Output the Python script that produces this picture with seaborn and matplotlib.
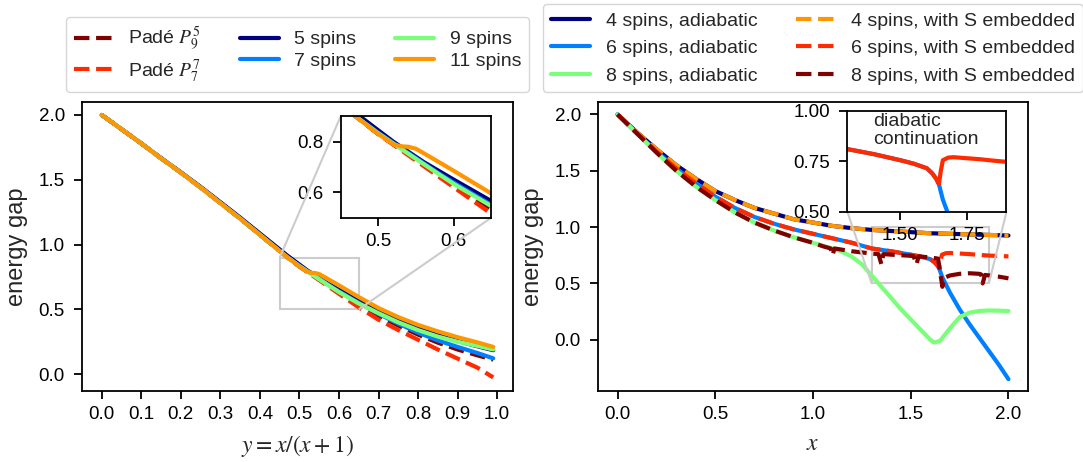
import matplotlib
matplotlib.use("Agg")
import matplotlib.pyplot as plt
import numpy as np
import pandas as pd
import seaborn as sns
from mpl_toolkits.axes_grid1.inset_locator import mark_inset

# ---------------- left panel data (vs y = x/(x+1)) ----------------
y_left = [0.0, 0.05, 0.1, 0.15, 0.2, 0.25, 0.3, 0.35, 0.4, 0.45, 0.47,
          0.5, 0.52, 0.53, 0.54, 0.55, 0.56, 0.58, 0.6, 0.65, 0.7, 0.75,
          0.8, 0.85, 0.9, 0.95, 0.99]
pade_9_5 = [2.0, 1.89, 1.78, 1.665, 1.555, 1.44, 1.32, 1.2, 1.075, 0.95, 0.90,
            0.83, 0.79, 0.77, 0.75, 0.73, 0.71, 0.668, 0.628, 0.535, 0.452, 0.375,
            0.305, 0.243, 0.19, 0.145, 0.112]
pade_7_7 = [2.0, 1.89, 1.78, 1.665, 1.555, 1.44, 1.32, 1.2, 1.075, 0.95, 0.90,
            0.83, 0.788, 0.767, 0.746, 0.725, 0.704, 0.662, 0.62, 0.515, 0.42, 0.34,
            0.265, 0.19, 0.12, 0.05, -0.025]
spins5 = [2.0, 1.89, 1.78, 1.667, 1.558, 1.445, 1.327, 1.208, 1.085, 0.962, 0.913,
          0.845, 0.80, 0.78, 0.76, 0.74, 0.72, 0.685, 0.65, 0.565, 0.485, 0.415,
          0.355, 0.30, 0.255, 0.215, 0.185]
spins7 = [2.0, 1.89, 1.78, 1.665, 1.555, 1.44, 1.32, 1.2, 1.075, 0.95, 0.90,
          0.835, 0.795, 0.775, 0.755, 0.735, 0.715, 0.675, 0.638, 0.55, 0.465, 0.39,
          0.32, 0.26, 0.21, 0.163, 0.122]
spins9 = [2.0, 1.89, 1.78, 1.665, 1.555, 1.44, 1.32, 1.2, 1.075, 0.95, 0.90,
          0.833, 0.792, 0.772, 0.752, 0.732, 0.712, 0.672, 0.633, 0.545, 0.47, 0.40,
          0.34, 0.29, 0.25, 0.218, 0.19]
spins11 = [2.0, 1.89, 1.78, 1.665, 1.555, 1.44, 1.32, 1.2, 1.075, 0.95, 0.90,
           0.83, 0.79, 0.782, 0.78, 0.772, 0.755, 0.72, 0.685, 0.595, 0.51, 0.44,
           0.38, 0.33, 0.285, 0.245, 0.21]

# ---------------- right panel data (vs x) ----------------
x4 = [0.0, 0.1, 0.2, 0.3, 0.4, 0.5, 0.6, 0.7, 0.8, 0.9, 1.0, 1.1, 1.2, 1.3,
      1.4, 1.5, 1.6, 1.7, 1.8, 1.9, 2.0]
gap4_adiabatic = [2.0, 1.84, 1.69, 1.55, 1.43, 1.32, 1.24, 1.17, 1.12, 1.07, 1.04,
                  1.01, 0.99, 0.975, 0.965, 0.955, 0.945, 0.94, 0.935, 0.93, 0.925]
gap4_embedded = [2.0, 1.84, 1.69, 1.55, 1.43, 1.32, 1.24, 1.17, 1.12, 1.07, 1.04,
                 1.01, 0.99, 0.975, 0.965, 0.955, 0.945, 0.94, 0.935, 0.93, 0.925]

x6_adiabatic = [0.0, 0.1, 0.2, 0.3, 0.4, 0.5, 0.6, 0.7, 0.8, 0.9, 1.0, 1.1, 1.2,
                1.3, 1.4, 1.5, 1.55, 1.6, 1.62, 1.635, 1.645, 1.66, 1.7, 1.75,
                1.8, 1.85, 1.9, 1.95, 2.0]
gap6_adiabatic = [2.0, 1.83, 1.67, 1.52, 1.39, 1.27, 1.17, 1.09, 1.03, 0.98, 0.94,
                  0.9, 0.86, 0.81, 0.785, 0.755, 0.738, 0.715, 0.69, 0.663, 0.637,
                  0.56, 0.42, 0.27, 0.14, 0.02, -0.10, -0.22, -0.35]
x6_embedded = [0.0, 0.1, 0.2, 0.3, 0.4, 0.5, 0.6, 0.7, 0.8, 0.9, 1.0, 1.1, 1.2,
               1.3, 1.4, 1.5, 1.55, 1.6, 1.62, 1.635, 1.645, 1.652, 1.66, 1.68,
               1.7, 1.75, 1.8, 1.85, 1.9, 1.95, 2.0]
gap6_embedded = [2.0, 1.83, 1.67, 1.52, 1.39, 1.27, 1.17, 1.09, 1.03, 0.98, 0.94,
                 0.9, 0.86, 0.81, 0.785, 0.755, 0.738, 0.715, 0.69, 0.663, 0.637,
                 0.70, 0.755, 0.768, 0.77, 0.765, 0.76, 0.753, 0.747, 0.743, 0.74]

x8_adiabatic = [0.0, 0.1, 0.2, 0.3, 0.4, 0.5, 0.6, 0.7, 0.8, 0.9, 1.0, 1.1, 1.15,
                1.2, 1.25, 1.3, 1.35, 1.4, 1.45, 1.5, 1.55, 1.6, 1.62, 1.65, 1.7,
                1.75, 1.8, 1.85, 1.9, 1.95, 2.0]
gap8_adiabatic = [2.0, 1.83, 1.66, 1.50, 1.36, 1.24, 1.13, 1.04, 0.97, 0.91, 0.86,
                  0.81, 0.78, 0.735, 0.67, 0.57, 0.47, 0.37, 0.27, 0.18, 0.09, 0.0,
                  -0.025, -0.01, 0.10, 0.20, 0.24, 0.255, 0.26, 0.258, 0.255]
x8_embedded = [0.0, 0.1, 0.2, 0.3, 0.4, 0.5, 0.6, 0.7, 0.8, 0.9, 1.0, 1.05, 1.09,
               1.1, 1.11, 1.2, 1.3, 1.335, 1.35, 1.36, 1.4, 1.5, 1.515, 1.53, 1.54,
               1.6, 1.64, 1.662, 1.672, 1.7, 1.75, 1.8, 1.85, 1.86, 1.868, 1.88,
               1.95, 2.0]
gap8_embedded = [2.0, 1.83, 1.66, 1.50, 1.36, 1.24, 1.13, 1.04, 0.97, 0.91, 0.86,
                 0.83, 0.81, 0.75, 0.81, 0.785, 0.765, 0.76, 0.67, 0.76, 0.755,
                 0.745, 0.74, 0.67, 0.74, 0.73, 0.72, 0.47, 0.55, 0.57, 0.585, 0.59,
                 0.585, 0.58, 0.50, 0.575, 0.56, 0.545]

# ---------------- style ----------------
sns.set_style("ticks")
plt.rcParams["font.family"] = ["Liberation Sans", "DejaVu Sans"]
plt.rcParams["mathtext.fontset"] = "stix"
plt.rcParams["axes.linewidth"] = 1.3
plt.rcParams["xtick.major.width"] = 1.3
plt.rcParams["ytick.major.width"] = 1.3
plt.rcParams["xtick.major.size"] = 5.8
plt.rcParams["ytick.major.size"] = 5.8
plt.rcParams["xtick.major.pad"] = 5
plt.rcParams["ytick.major.pad"] = 6.5
plt.rcParams["xtick.color"] = "black"
plt.rcParams["ytick.color"] = "black"
plt.rcParams["axes.edgecolor"] = "black"

C_NAVY = "#000080"
C_BLUE = "#0080ff"
C_GREEN = "#7bff7b"
C_ORANGE = "#ff9600"
C_RED = "#ff2a00"
C_DARKRED = "#800000"
LW = 3

TICK_FS = 13.5
LABEL_FS = 17
LEG_FS = 14

fig = plt.figure(figsize=(10.83, 4.62), dpi=100)
axL = fig.add_axes([82 / 1083, 1 - 391 / 462, 431 / 1083, 289 / 462])
axR = fig.add_axes([598 / 1083, 1 - 391 / 462, 430 / 1083, 289 / 462])

left_series = [
    (pade_9_5, "Padé $P_9^5$", C_DARKRED, "--"),
    (pade_7_7, "Padé $P_7^7$", C_RED, "--"),
    (spins5, "5 spins", C_NAVY, "-"),
    (spins7, "7 spins", C_BLUE, "-"),
    (spins9, "9 spins", C_GREEN, "-"),
    (spins11, "11 spins", C_ORANGE, "-"),
]


def draw(ax, xs, ys, color, ls, label=None):
    df = pd.DataFrame({"x": xs, "y": ys})
    sns.lineplot(data=df, x="x", y="y", ax=ax, color=color, linestyle=ls,
                 linewidth=LW, label=label, sort=False, estimator=None,
                 legend=False if label is None else "auto")


for vals, lab, col, ls in left_series:
    draw(axL, y_left, vals, col, ls, lab)

right_series = [
    (x4, gap4_adiabatic, "4 spins, adiabatic", C_NAVY, "-"),
    (x6_adiabatic, gap6_adiabatic, "6 spins, adiabatic", C_BLUE, "-"),
    (x8_adiabatic, gap8_adiabatic, "8 spins, adiabatic", C_GREEN, "-"),
    (x4, gap4_embedded, "4 spins, with S embedded", C_ORANGE, "--"),
    (x6_embedded, gap6_embedded, "6 spins, with S embedded", C_RED, "--"),
    (x8_embedded, gap8_embedded, "8 spins, with S embedded", C_DARKRED, "--"),
]
for xs, vals, lab, col, ls in right_series:
    draw(axR, xs, vals, col, ls, lab)

# axes formatting
axL.set_xlim(-0.05, 1.04)
axL.set_ylim(-0.13, 2.1)
axL.set_xticks(np.arange(0, 1.01, 0.1))
axL.set_yticks(np.arange(0, 2.01, 0.5))
axL.set_xlabel("$y = x/(x+1)$", fontsize=LABEL_FS, labelpad=7)
axL.set_ylabel("energy gap", fontsize=LABEL_FS, labelpad=8)

axR.set_xlim(-0.1, 2.1)
axR.set_ylim(-0.455, 2.11)
axR.set_xticks(np.arange(0, 2.01, 0.5))
axR.set_yticks(np.arange(0, 2.01, 0.5))
axR.set_xlabel("$x$", fontsize=LABEL_FS, labelpad=7)
axR.set_ylabel("energy gap", fontsize=LABEL_FS, labelpad=8)

for ax in (axL, axR):
    ax.tick_params(labelsize=TICK_FS)
    for s in ax.spines.values():
        s.set_visible(True)
        s.set_color("black")

# legends
hL, lL = axL.get_legend_handles_labels()
axL.legend(hL, lL, loc="lower center", bbox_to_anchor=(0.5, 1.0), ncol=3,
           fontsize=LEG_FS, frameon=True, handlelength=2.0, labelspacing=0.2)
hR, lR = axR.get_legend_handles_labels()
axR.legend(hR, lR, loc="lower center", bbox_to_anchor=(0.5, 1.0), ncol=2,
           fontsize=LEG_FS, frameon=True, handlelength=2.0)

# left inset
insL = axL.inset_axes([0.6, 0.6, 0.35, 0.35])
for vals, lab, col, ls in left_series:
    draw(insL, y_left, vals, col, ls)
insL.set_xlim(0.45, 0.65)
insL.set_ylim(0.5, 0.9)
insL.set_xticks([0.5, 0.6])
insL.set_yticks([0.6, 0.8])
insL.set_xlabel("")
insL.set_ylabel("")
insL.tick_params(labelsize=TICK_FS)
mark_inset(axL, insL, loc1=2, loc2=4, fc="none", ec="0.8", lw=1.5)

# right inset
insR = axR.inset_axes([0.58, 0.62, 0.37, 0.35])
draw(insR, x6_adiabatic, gap6_adiabatic, C_BLUE, "-")
draw(insR, x6_embedded, gap6_embedded, C_RED, "-")
insR.set_xlim(1.3, 1.9)
insR.set_ylim(0.5, 1.0)
insR.set_xticks([1.5, 1.75])
insR.set_yticks([0.5, 0.75, 1.0])
insR.set_xticklabels(["1.50", "1.75"])
insR.set_yticklabels(["0.50", "0.75", "1.00"])
insR.set_xlabel("")
insR.set_ylabel("")
insR.tick_params(labelsize=TICK_FS)
insR.text(0.16, 0.975, "diabatic\ncontinuation", transform=insR.transAxes,
          ha="left", va="top", fontsize=14, linespacing=1.05)
mark_inset(axR, insR, loc1=3, loc2=4, fc="none", ec="0.8", lw=1.5)

for ins in (insL, insR):
    for s in ins.spines.values():
        s.set_visible(True)
        s.set_color("black")

fig.savefig("out.png", dpi=100)
